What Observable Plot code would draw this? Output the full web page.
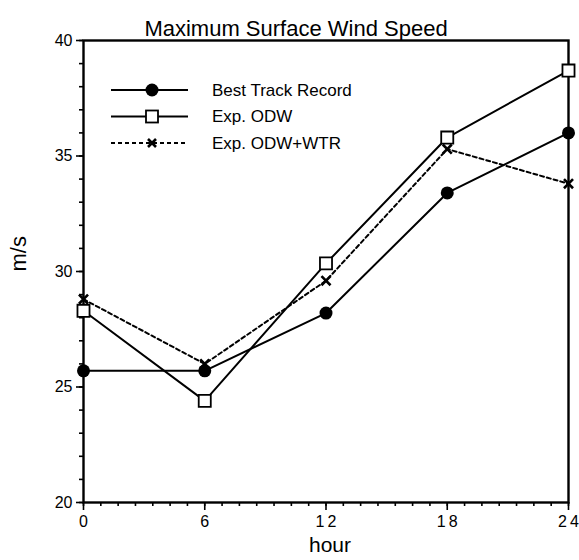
<!DOCTYPE html>
<html>
<head>
<meta charset="utf-8">
<script src="https://cdn.jsdelivr.net/npm/d3@7"></script>
<script src="https://cdn.jsdelivr.net/npm/@observablehq/plot@0.6"></script>
<style>
  html, body { margin: 0; padding: 0; background: #fff; }
  svg { display: block; }
</style>
</head>
<body>
<div id="chart"></div>
<script>
const hours = [0, 6, 12, 18, 24];
const bestTrack = [25.7, 25.7, 28.2, 33.4, 36.0];
const expODW = [28.3, 24.4, 30.35, 35.8, 38.7];
const expODWWTR = [28.8, 26.0, 29.6, 35.3, 33.8];
const seriesNames = ["Best Track Record", "Exp. ODW", "Exp. ODW+WTR"];
const xTicks = [0, 6, 12, 18, 24];
const yTicks = [20, 25, 30, 35, 40];
const xMinorStep = 6 / 7;
const yMinorStep = 1;
const titleText = "Maximum Surface Wind Speed";
const xLabel = "hour";
const yLabel = "m/s";

const rows = (vals, name) => hours.map((h, i) => ({hour: h, value: vals[i], series: name}));
const best = rows(bestTrack, seriesNames[0]);
const odw = rows(expODW, seriesNames[1]);
const wtr = rows(expODWWTR, seriesNames[2]);

const xMinor = d3.range(0, 24 + 1e-6, xMinorStep);
const yMinor = d3.range(20, 40 + 1e-6, yMinorStep);
const font = "Liberation Sans, Arial, Helvetica, sans-serif";

const plot = Plot.plot({
  width: 579,
  height: 560,
  marginTop: 40,
  marginBottom: 58,
  marginLeft: 83,
  marginRight: 11,
  style: {fontFamily: font, background: "#fff", color: "#000"},
  x: {domain: [0, 24], label: null},
  y: {domain: [20, 40], label: null},
  marks: [
    Plot.axisX({ticks: xMinor, tickSize: 4, tickFormat: () => "", strokeWidth: 1.6}),
    Plot.axisX({ticks: xTicks, tickSize: 8, tickPadding: 5, fontSize: 16, strokeWidth: 1.6,
      tickFormat: d => String(d).split("").join("\u2009")}),
    Plot.axisY({ticks: yMinor, tickSize: 4, tickFormat: () => "", strokeWidth: 1.6}),
    Plot.axisY({ticks: yTicks, tickSize: 7, tickPadding: 4, fontSize: 16, strokeWidth: 1.6}),
    Plot.frame({strokeWidth: 2.4}),
    Plot.line(wtr, {x: "hour", y: "value", stroke: "#000", strokeWidth: 2, strokeDasharray: "4,3"}),
    Plot.line(odw, {x: "hour", y: "value", stroke: "#000", strokeWidth: 2}),
    Plot.line(best, {x: "hour", y: "value", stroke: "#000", strokeWidth: 2}),
    Plot.dot(wtr, {x: "hour", y: "value", symbol: "times", r: 4.2, stroke: "#000", strokeWidth: 2.6}),
    Plot.dot(best, {x: "hour", y: "value", symbol: "circle", r: 6.5, fill: "#000", stroke: "none"}),
    Plot.dot(odw, {x: "hour", y: "value", symbol: "square", r: 6.8, fill: "#fff", stroke: "#000", strokeWidth: 1.8}),
    Plot.text([titleText], {frameAnchor: "top", dx: -30, dy: -20, fontSize: 22, fill: "#000", text: d => d}),
    Plot.text([xLabel], {frameAnchor: "bottom", dx: 4, dy: 49, fontSize: 21, fill: "#000", text: d => d}),
    Plot.text([yLabel], {frameAnchor: "left", dx: -65, dy: 0, rotate: -90, fontSize: 22, fill: "#000", text: d => d})
  ]
});

document.getElementById("chart").appendChild(plot);

// Legend inside the plot area
const svg = d3.select(plot);
const lg = svg.append("g").attr("font-family", font).attr("font-size", 17).attr("text-anchor", "start");
const legendRows = [
  {name: seriesNames[0], dash: null, marker: "circle"},
  {name: seriesNames[1], dash: null, marker: "square"},
  {name: seriesNames[2], dash: "4,3", marker: "times"}
];
legendRows.forEach((r, i) => {
  const y = 90 + i * 26.5;
  lg.append("line").attr("x1", 111).attr("x2", 188).attr("y1", y).attr("y2", y)
    .attr("stroke", "#000").attr("stroke-width", 2)
    .attr("stroke-dasharray", r.dash);
  if (r.marker === "circle") {
    lg.append("circle").attr("cx", 152).attr("cy", y).attr("r", 6.5).attr("fill", "#000");
  } else if (r.marker === "square") {
    lg.append("rect").attr("x", 146).attr("y", y - 6).attr("width", 12).attr("height", 12)
      .attr("fill", "#fff").attr("stroke", "#000").attr("stroke-width", 1.8);
  } else {
    lg.append("path").attr("d", `M${148},${y-4}L${156},${y+4}M${156},${y-4}L${148},${y+4}`)
      .attr("stroke", "#000").attr("stroke-width", 2.6);
  }
  lg.append("text").attr("x", 212).attr("y", y).attr("dy", "0.35em").attr("fill", "#000").text(r.name);
});
</script>
</body>
</html>
